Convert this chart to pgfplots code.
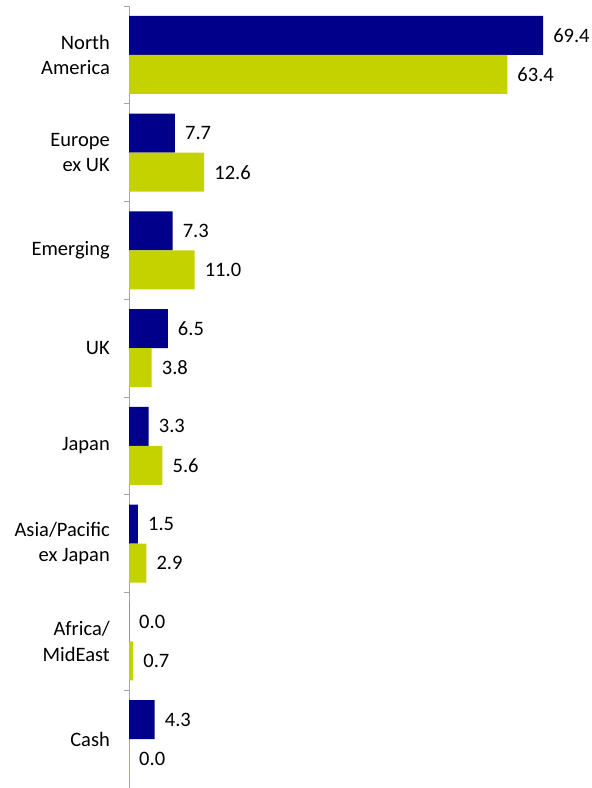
\documentclass[border=0pt]{standalone}
\usepackage{pgfplots}
\pgfplotsset{compat=1.18}
\usepackage{fontspec}
\setmainfont{Carlito}
\definecolor{navyb}{RGB}{0,0,139}
\definecolor{limeb}{RGB}{196,210,0}
\begin{document}
\begin{tikzpicture}[x=1bp,y=1bp]
\useasboundingbox (0,0) rectangle (592,788);
\begin{axis}[
  at={(129bp,0bp)}, anchor=south west,
  scale only axis, width=463bp, height=782bp,
  xmin=0, xmax=77.6,
  ymin=-0.5, ymax=7.5, y dir=reverse,
  axis x line=none, axis y line=left,
  axis line style={-, draw=black!35, line width=0.8pt},
  xbar, bar width=39bp, bar shift=0pt,
  ytick={0,...,7},
  yticklabels={{North\\America},{Europe\\ex UK},Emerging,UK,Japan,{Asia/Pacific\\ex Japan},{Africa/\\MidEast},Cash},
  yticklabel style={align=right, inner sep=0pt, xshift=-19bp, font=\fontsize{20.5bp}{25.5bp}\selectfont},
  major tick length=0pt,
  minor ytick={-0.5,0.5,...,7.5},
  minor tick length=5bp, tick align=outside,
  minor tick style={draw=black!35, line width=0.8pt},
  nodes near coords,
  nodes near coords style={font=\fontsize{20.5bp}{24bp}\selectfont, inner sep=0pt, xshift=10bp, anchor=west,
    /pgf/number format/.cd, fixed, fixed zerofill, precision=1, assume math mode=true},
  point meta=x,
  clip=false,
]
\addplot[fill=navyb, draw=none] coordinates {
  (69.4,-0.2) (7.7,0.8) (7.3,1.8) (6.5,2.8) (3.3,3.8) (1.5,4.8) (0.0,5.8) (4.3,6.8)};
\addplot[fill=limeb, draw=none] coordinates {
  (63.4,0.2) (12.6,1.2) (11.0,2.2) (3.8,3.2) (5.6,4.2) (2.9,5.2) (0.7,6.2) (0.0,7.2)};
\end{axis}
\end{tikzpicture}
\end{document}
